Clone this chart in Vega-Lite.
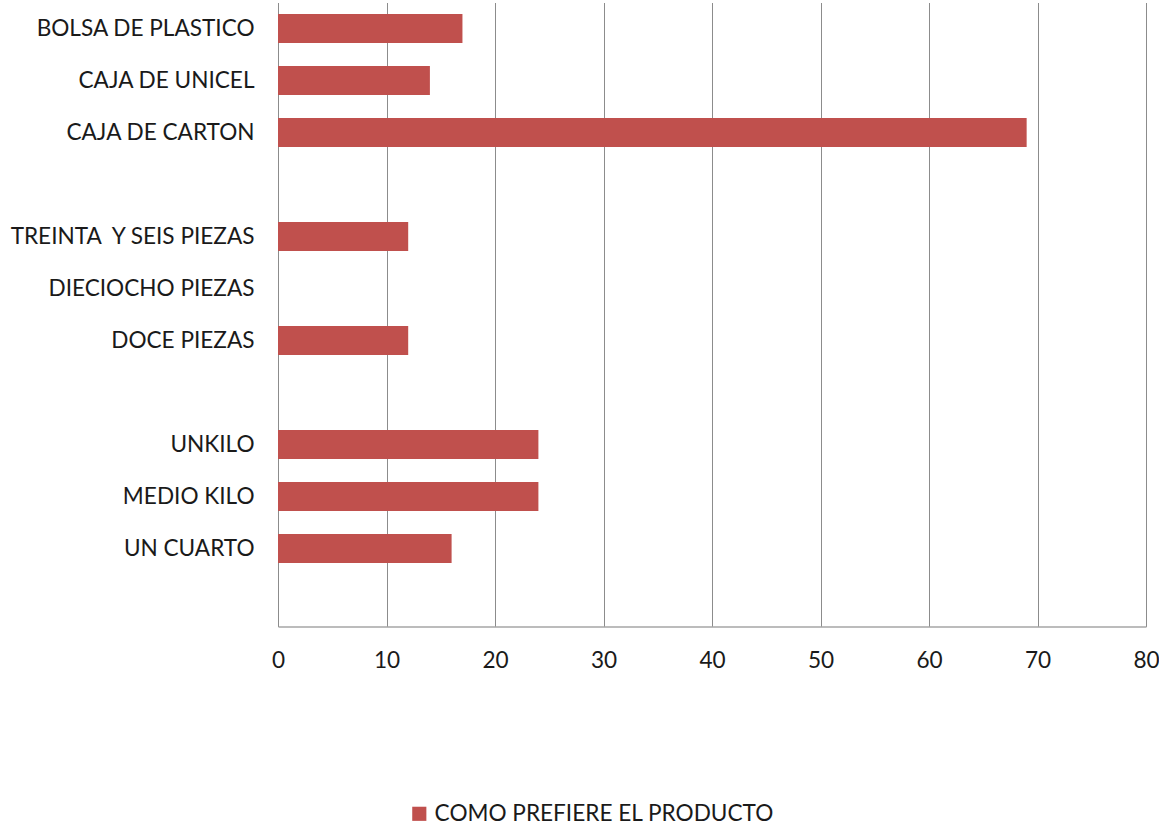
{
  "$schema": "https://vega.github.io/schema/vega-lite/v6.json",
  "width": 868,
  "height": 624,
  "autosize": "none",
  "padding": {"left": 278, "top": 2.5, "right": 13, "bottom": 202.5},
  "background": "white",
  "config": {
    "view": {"stroke": null},
    "font": "Lato"
  },
  "data": {
    "values": [
      {"categoria": "BOLSA DE PLASTICO", "valor": 17, "serie": "COMO PREFIERE EL PRODUCTO"},
      {"categoria": "CAJA DE UNICEL", "valor": 14, "serie": "COMO PREFIERE EL PRODUCTO"},
      {"categoria": "CAJA DE CARTON", "valor": 69, "serie": "COMO PREFIERE EL PRODUCTO"},
      {"categoria": "TREINTA \u00a0Y SEIS PIEZAS", "valor": 12, "serie": "COMO PREFIERE EL PRODUCTO"},
      {"categoria": "DIECIOCHO PIEZAS", "valor": 0, "serie": "COMO PREFIERE EL PRODUCTO"},
      {"categoria": "DOCE PIEZAS", "valor": 12, "serie": "COMO PREFIERE EL PRODUCTO"},
      {"categoria": "UNKILO", "valor": 24, "serie": "COMO PREFIERE EL PRODUCTO"},
      {"categoria": "MEDIO KILO", "valor": 24, "serie": "COMO PREFIERE EL PRODUCTO"},
      {"categoria": "UN CUARTO", "valor": 16, "serie": "COMO PREFIERE EL PRODUCTO"}
    ]
  },
  "mark": {"type": "bar"},
  "encoding": {
    "y": {
      "field": "categoria",
      "type": "nominal",
      "sort": null,
      "scale": {
        "domain": ["BOLSA DE PLASTICO", "CAJA DE UNICEL", "CAJA DE CARTON", " ", "TREINTA \u00a0Y SEIS PIEZAS", "DIECIOCHO PIEZAS", "DOCE PIEZAS", "  ", "UNKILO", "MEDIO KILO", "UN CUARTO", "   "],
        "paddingInner": 0.44,
        "paddingOuter": 0.22
      },
      "axis": {
        "title": null,
        "ticks": false,
        "domain": false,
        "labelFont": "Lato",
        "labelFontSize": 22.6,
        "labelColor": "#1a1a1a",
        "labelPadding": 24,
        "labelLimit": 400
      }
    },
    "x": {
      "field": "valor",
      "type": "quantitative",
      "scale": {"domain": [0, 80], "nice": false},
      "axis": {
        "title": null,
        "values": [0, 10, 20, 30, 40, 50, 60, 70, 80],
        "ticks": false,
        "domain": true,
        "domainColor": "#a6a6a6",
        "domainWidth": 1.5,
        "grid": true,
        "gridColor": "#8c8c8c",
        "gridWidth": 1,
        "labelFont": "Lato",
        "labelFontSize": 22.6,
        "labelColor": "#1a1a1a",
        "labelPadding": 23,
        "labelFlush": false,
        "labelOverlap": false
      }
    },
    "color": {
      "field": "serie",
      "type": "nominal",
      "scale": {"range": ["#C0504D"]},
      "legend": {
        "title": null,
        "orient": "none",
        "legendX": 130,
        "legendY": 800,
        "symbolType": "square",
        "symbolSize": 200,
        "symbolStrokeWidth": 0,
        "labelFont": "Lato",
        "labelFontSize": 22.6,
        "labelColor": "#1a1a1a",
        "labelLimit": 500
      }
    }
  }
}
